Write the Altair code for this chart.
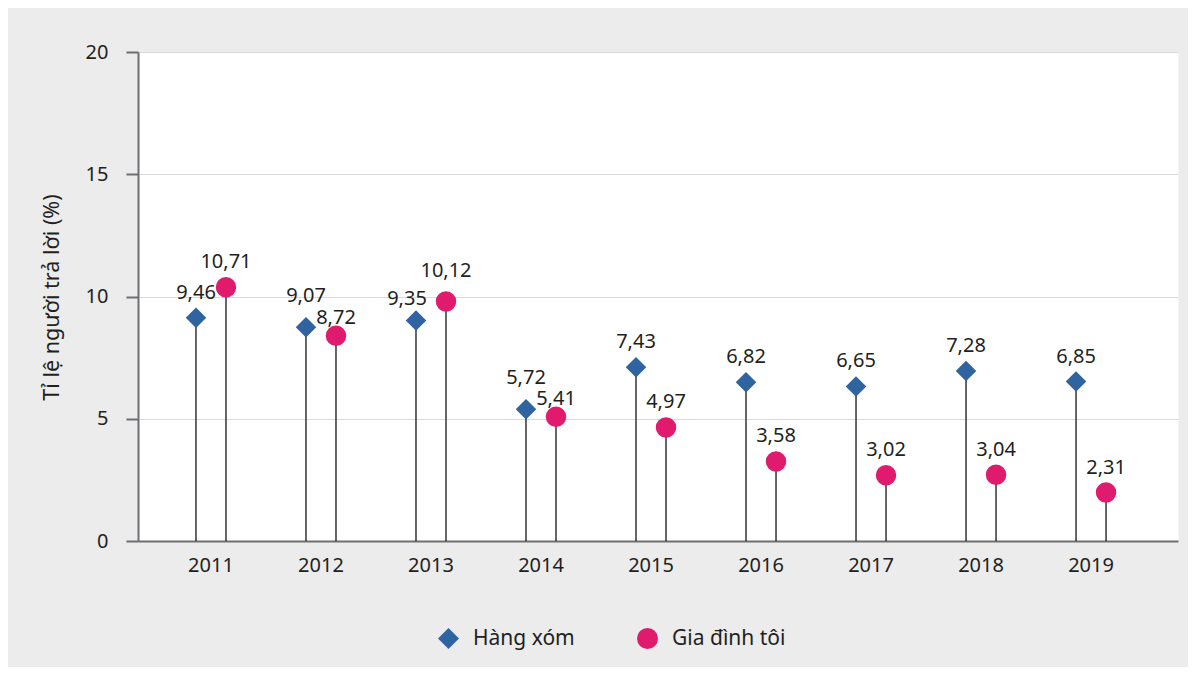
import altair as alt
import pandas as pd

years = ["2011", "2012", "2013", "2014", "2015", "2016", "2017", "2018", "2019"]
series = ["Hàng xóm", "Gia đình tôi"]
hang_xom = [9.46, 9.07, 9.35, 5.72, 7.43, 6.82, 6.65, 7.28, 6.85]
gia_dinh = [10.71, 8.72, 10.12, 5.41, 4.97, 3.58, 3.02, 3.04, 2.31]
colors = ["#2f64a0", "#e01a6c"]
shapes = ["diamond", "circle"]

# label placement style (as in the reference, some labels are nudged to avoid overlaps)
label_place = {("2012", "Hàng xóm"): "up", ("2012", "Gia đình tôi"): "down",
               ("2013", "Gia đình tôi"): "up", ("2013", "Hàng xóm"): "left",
               ("2014", "Hàng xóm"): "up", ("2014", "Gia đình tôi"): "down"}

rows = []
for name, vals in zip(series, [hang_xom, gia_dinh]):
    for y, v in zip(years, vals):
        rows.append({"year": y, "series": name, "value": v,
                     "label": f"{v:.2f}".replace(".", ","),
                     "place": label_place.get((y, name), "normal")})
df = pd.DataFrame(rows)

FONT = "Noto Sans"
TXT = "#231f20"
AX = "#6d6e71"

base = alt.Chart(df).encode(
    x=alt.X("year:N", title=None,
            scale=alt.Scale(paddingInner=0, paddingOuter=0.227, align=0.36),
            axis=alt.Axis(labelAngle=0, ticks=False, grid=False, labelPadding=14,
                          labelFontSize=20, labelFont=FONT, labelColor=TXT,
                          domainColor=AX, domainWidth=2)),
    xOffset=alt.XOffset("series:N", sort=series,
                        scale=alt.Scale(domain=series, paddingInner=0, paddingOuter=0.833)),
)

yenc = alt.Y("value:Q", title="Tỉ lệ người trả lời (%)",
             scale=alt.Scale(domain=[0, 20], nice=False),
             axis=alt.Axis(values=[0, 5, 10, 15, 20], labelFontSize=20, labelFont=FONT,
                           labelColor=TXT, labelPadding=18, tickSize=12, tickColor=AX,
                           tickWidth=2, domainColor=AX, domainWidth=2,
                           gridColor="#d9d9d9", gridWidth=1,
                           titleFontSize=21.5, titleFont=FONT, titleColor=TXT,
                           titleFontWeight="normal", titleAngle=270, titleX=-86,
                           titleY=245, titleAlign="center", titleBaseline="middle"))

rules = base.mark_rule(color="black", strokeWidth=1.2, yOffset=8).encode(
    y=yenc, y2=alt.datum(0))

points = base.mark_point(filled=True, opacity=1, yOffset=8, size=420).encode(
    y=yenc,
    color=alt.Color("series:N", sort=series, title=None,
                    scale=alt.Scale(domain=series, range=colors)),
    shape=alt.Shape("series:N", sort=series, title=None,
                    scale=alt.Scale(domain=series, range=shapes)),
)

def text_layer(place, dy, dx=0):
    return base.mark_text(dy=dy, dx=dx, baseline="alphabetic", fontSize=20, font=FONT,
                          color=TXT).encode(y=yenc, text="label:N").transform_filter(
        alt.datum.place == place)

texts = [text_layer("normal", -11), text_layer("up", -17), text_layer("down", -4),
         text_layer("left", -7, -9)]

chart = alt.layer(rules, points, *texts).properties(
    width=1040, height=489,
    padding={"left": 130, "top": 44, "right": 10, "bottom": 126},
    autosize=alt.AutoSizeParams(type="none"),
    background="#ececec",
).configure_view(
    stroke="transparent", fill="white"
).configure_legend(
    orient="none", legendX=300, legendY=576, direction="horizontal",
    symbolSize=440, labelFontSize=21, labelFont=FONT, labelColor=TXT,
    labelOffset=14, columnPadding=62, padding=0, symbolStrokeWidth=0,
)

chart.save("out.html", embed_options={"renderer": "svg", "actions": False})
